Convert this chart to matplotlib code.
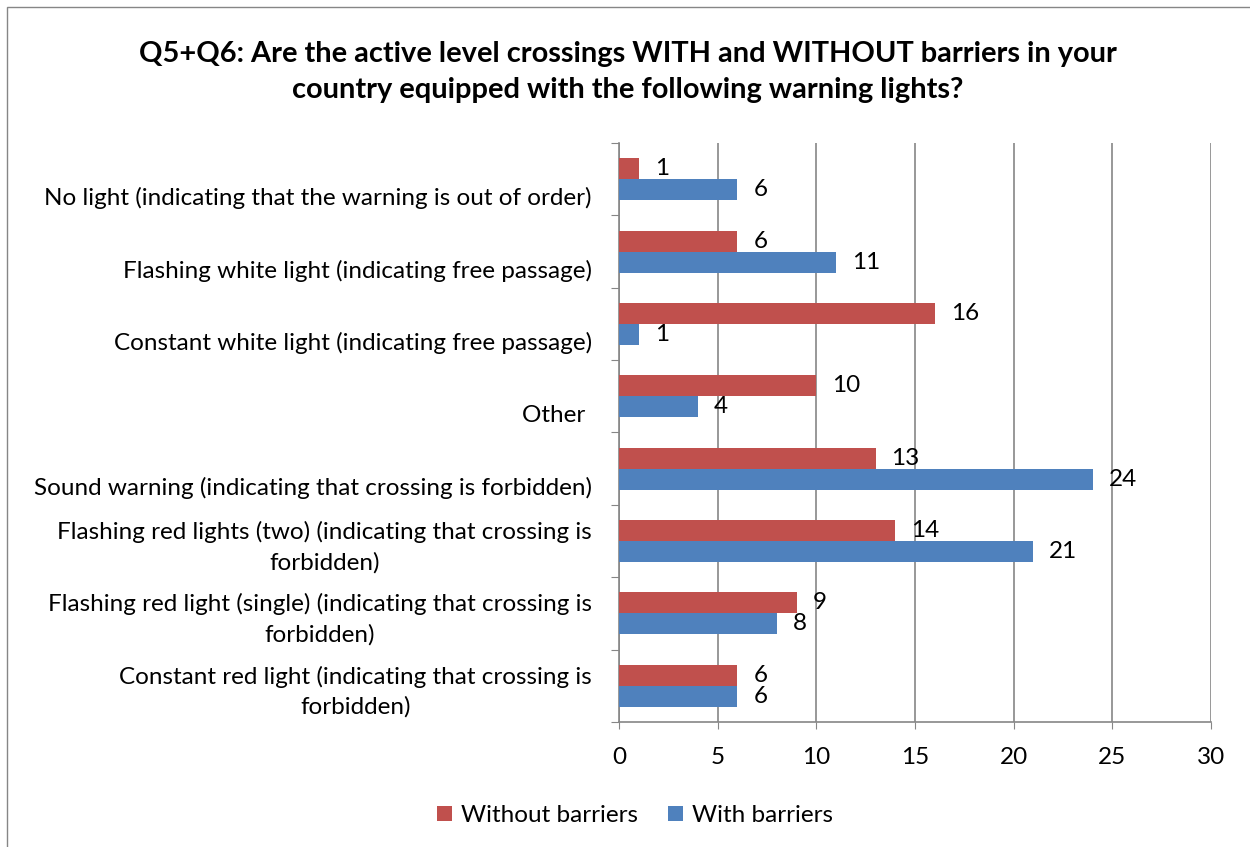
import matplotlib
matplotlib.use('Agg')

import matplotlib.pyplot as plt
from matplotlib.patches import Rectangle
from matplotlib.transforms import offset_copy
import numpy as np

plt.rcParams['font.family'] = ['Lato', 'DejaVu Sans']

# categories listed bottom to top, as they appear on the axis
categories = [
    "Constant red light (indicating that crossing is\nforbidden)",
    "Flashing red light (single) (indicating that crossing is\nforbidden)",
    "Flashing red lights (two) (indicating that crossing is\nforbidden)",
    "Sound warning (indicating that crossing is forbidden)",
    "Other ",
    "Constant white light (indicating free passage)",
    "Flashing white light (indicating free passage)",
    "No light (indicating that the warning is out of order)",
]
without_barriers = [6, 9, 14, 13, 10, 16, 6, 1]
with_barriers = [6, 8, 21, 24, 4, 1, 11, 6]
x_ticks = [0, 5, 10, 15, 20, 25, 30]

title = ("Q5+Q6: Are the active level crossings WITH and WITHOUT barriers in your\n"
         "country equipped with the following warning lights?")

RED = '#C0504D'
BLUE = '#4F81BD'
GRID = '#868686'
FS = 17.5

fig = plt.figure(figsize=(12.5, 8.47), dpi=100)
fig.patch.set_facecolor('white')

# chart frame
fig.patches.append(Rectangle((7 / 1250, -0.05), 1.2, 1.05 - 7 / 847,
                             transform=fig.transFigure, fill=False,
                             edgecolor=GRID, linewidth=1.0))

ax = fig.add_axes([0.4952, 0.1476, 0.4736, 0.6836])

y = np.arange(len(categories))
h = 0.29
bars_red = ax.barh(y + h / 2, without_barriers, height=h, color=RED,
                   label='Without barriers', zorder=3)
bars_blue = ax.barh(y - h / 2, with_barriers, height=h, color=BLUE,
                    label='With barriers', zorder=3)

ax.bar_label(bars_red, padding=11.5, fontsize=FS, color='black')
ax.bar_label(bars_blue, padding=11.5, fontsize=FS, color='black')

ax.set_xlim(0, 30)
ax.set_ylim(-0.5, len(categories) - 0.5)
ax.set_xticks(x_ticks)
ax.tick_params(axis='x', labelsize=FS, length=5, pad=13, color=GRID)
ax.xaxis.grid(True, color=GRID, linewidth=1.2, zorder=0)

# category boundary ticks on the y axis, labels drawn separately
ax.set_yticks(np.arange(len(categories) + 1) - 0.5)
ax.set_yticklabels([])
ax.tick_params(axis='y', length=6, color=GRID)

for side in ['top', 'right']:
    ax.spines[side].set_visible(False)
for side in ['left', 'bottom']:
    ax.spines[side].set_color(GRID)
    ax.spines[side].set_linewidth(1.2)

# single-line labels sit a bit below the category centre
for yi, cat in zip(y, categories):
    dy = -6 if '\n' in cat else -19
    tr = offset_copy(ax.get_yaxis_transform(), fig=fig, x=-27, y=dy, units='dots')
    ax.text(0, yi, cat, transform=tr, ha='right', va='center',
            multialignment='center', fontsize=FS, linespacing=1.5)

fig.text(0.502, 0.915, title, ha='center', va='center', fontsize=20.9,
         fontweight='bold', linespacing=1.43)

fig.legend(handles=[bars_red, bars_blue], loc='center', ncol=2,
           bbox_to_anchor=(0.508, 0.037), frameon=False, fontsize=FS,
           handlelength=0.62, handleheight=0.62, handletextpad=0.4,
           columnspacing=1.2)

fig.savefig('out.png', dpi=100)
plt.close(fig)
